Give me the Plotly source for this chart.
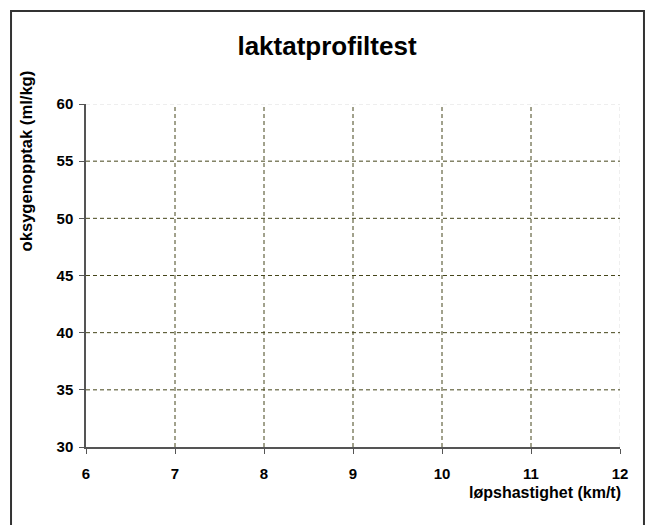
import plotly.graph_objects as go

# Data (the reference chart is an empty lactate-profile template)
speed_kmh = []          # løpshastighet (km/t)
vo2_mlkg = []           # oksygenopptak (ml/kg)
x_ticks = [6, 7, 8, 9, 10, 11, 12]
y_ticks = [30, 35, 40, 45, 50, 55, 60]

FONT = "Liberation Sans, Arial, sans-serif"
GRID_DARK = "#45451a"
GRID_LIGHT = "#dedede"
AXIS = "#555555"

fig = go.Figure()
fig.add_trace(go.Scatter(x=speed_kmh, y=vo2_mlkg, mode="lines+markers",
                         showlegend=False))

shapes = []
# vertical gridlines
for v in x_ticks[1:]:
    last = (v == x_ticks[-1])
    shapes.append(dict(type="line", xref="x", yref="y domain", x0=v, x1=v, y0=0, y1=1,
                       line=dict(color=GRID_LIGHT if last else GRID_DARK, width=1,
                                 dash="4px,3px"), layer="below"))
# horizontal gridlines
for v in y_ticks[1:]:
    last = (v == y_ticks[-1])
    shapes.append(dict(type="line", xref="x domain", yref="y", x0=0, x1=1, y0=v, y1=v,
                       line=dict(color=GRID_LIGHT if last else GRID_DARK, width=1,
                                 dash="4px,3px"), layer="below"))
# outer chart border
shapes.append(dict(type="rect", xref="paper", yref="paper",
                   x0=-0.1404, x1=1.0449, y0=-0.2566, y1=1.2711,
                   line=dict(color="#333333", width=2), fillcolor="rgba(0,0,0,0)"))

fig.update_layout(
    width=645, height=525,
    margin=dict(l=86, r=25, t=104, b=78),
    paper_bgcolor="white", plot_bgcolor="white",
    font=dict(family=FONT, color="black"),
    title=dict(text="<b>laktatprofiltest</b>", x=0.507, xanchor="center",
               y=0.912, yanchor="middle", yref="container",
               font=dict(family=FONT, size=26, color="black")),
    shapes=shapes,
    annotations=[
        dict(text="<b>løpshastighet (km/t)</b>", xref="paper", yref="paper",
             x=1.006, y=-0.134, xanchor="right", yanchor="middle", showarrow=False,
             font=dict(family=FONT, size=16, color="black")),
        dict(text="<b>oksygenopptak (ml/kg)</b>", xref="paper", yref="paper",
             x=-0.1114, y=0.834, xanchor="center", yanchor="middle", textangle=-90,
             showarrow=False, font=dict(family=FONT, size=16.6, color="black")),
    ],
)
fig.update_xaxes(range=[x_ticks[0], x_ticks[-1]], tickvals=x_ticks,
                 showgrid=False, zeroline=False, showline=True, linecolor=AXIS,
                 linewidth=1.5, ticks="outside", ticklen=5, tickcolor=AXIS,
                 tickwidth=1, ticklabelstandoff=7,
                 tickfont=dict(family=FONT, size=15, color="black", weight="bold"))
fig.update_yaxes(range=[y_ticks[0], y_ticks[-1]], tickvals=y_ticks,
                 showgrid=False, zeroline=False, showline=True, linecolor=AXIS,
                 linewidth=1.5, ticks="outside", ticklen=5, tickcolor=AXIS,
                 tickwidth=1, ticklabelstandoff=3,
                 tickfont=dict(family=FONT, size=15, color="black", weight="bold"))

fig.write_html("out.html",
               config={"displayModeBar": False},
               post_script="document.body.style.margin='0';"
                           "document.body.style.overflow='hidden';")
